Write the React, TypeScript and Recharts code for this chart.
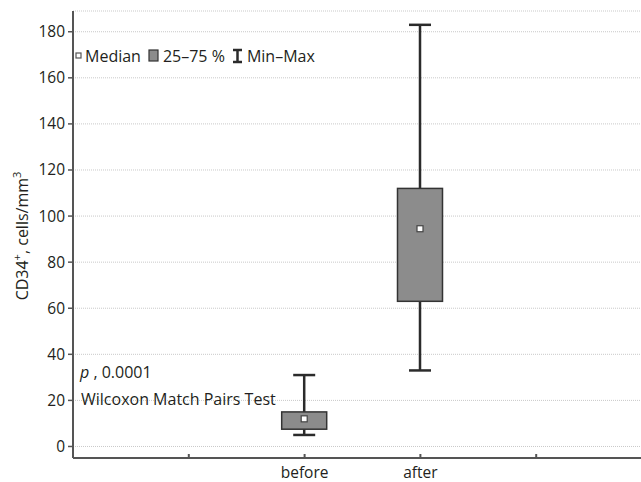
import React from 'react';
import { ComposedChart, Bar, XAxis, YAxis, CartesianGrid, Legend, Customized } from 'recharts';

const categories = ['before', 'after'];
const positions = [2, 3];
const minValues = [5, 33];
const q1Values = [7.5, 63];
const medianValues = [12, 94.5];
const q3Values = [15, 112];
const maxValues = [31, 183];
const yTicks = [0, 20, 40, 60, 80, 100, 120, 140, 160, 180];
const xTicks = [1, 2, 3, 4];

const data = categories.map((name, i) => ({
  name,
  pos: positions[i],
  min: minValues[i],
  q1: q1Values[i],
  median: medianValues[i],
  q3: q3Values[i],
  max: maxValues[i],
}));

const FONT = '"Open Sans", "Noto Sans", sans-serif';
const TEXT = '#231f20';
const LINE = '#2b2b2b';
const BOX = '#8c8c8c';

function BoxShape(props: any) {
  const { x, y, width, height, payload } = props;
  const top = Math.min(y, y + height);
  const h = Math.abs(height);
  const span = payload.max - payload.min;
  const py = (v: number) => top + (h * (payload.max - v)) / span;
  const cx = x + width / 2;
  const cap = 11;
  return (
    <g>
      <line x1={cx} x2={cx} y1={py(payload.max)} y2={py(payload.min)} stroke={LINE} strokeWidth={2.5} />
      <line x1={cx - cap} x2={cx + cap} y1={py(payload.max)} y2={py(payload.max)} stroke={LINE} strokeWidth={2.5} />
      <line x1={cx - cap} x2={cx + cap} y1={py(payload.min)} y2={py(payload.min)} stroke={LINE} strokeWidth={2.5} />
      <rect
        x={x}
        y={py(payload.q3)}
        width={width}
        height={py(payload.q1) - py(payload.q3)}
        fill={BOX}
        stroke="#333"
        strokeWidth={1.5}
      />
      <rect x={cx - 3} y={py(payload.median) - 3} width={6} height={6} fill="#fff" stroke="#444" strokeWidth={1.2} />
    </g>
  );
}

function LegendContent() {
  const item = { display: 'flex', alignItems: 'center', marginRight: 7 } as const;
  return (
    <div style={{ display: 'flex', alignItems: 'center', fontFamily: FONT, fontSize: 16, color: TEXT }}>
      <div style={item}>
        <svg width={8} height={8} style={{ marginRight: 2 }}>
          <rect x={1} y={1} width={5} height={5} fill="#fff" stroke="#555" strokeWidth={1.2} />
        </svg>
        Median
      </div>
      <div style={item}>
        <svg width={12} height={14} style={{ marginRight: 3 }}>
          <rect x={1} y={1} width={9} height={11} fill={BOX} stroke="#333" strokeWidth={1.2} />
        </svg>
        25–75 %
      </div>
      <div style={item}>
        <svg width={12} height={16} style={{ marginRight: 3 }}>
          <line x1={1} x2={10} y1={2} y2={2} stroke={LINE} strokeWidth={2.5} />
          <line x1={5.5} x2={5.5} y1={2} y2={14} stroke={LINE} strokeWidth={2.5} />
          <line x1={1} x2={10} y1={14} y2={14} stroke={LINE} strokeWidth={2.5} />
        </svg>
        Min–Max
      </div>
    </div>
  );
}

function Notes() {
  return (
    <g fontFamily={FONT} fontSize={16} fill={TEXT}>
      <text x={80} y={378}>
        <tspan fontStyle="italic">p</tspan> , 0.0001
      </text>
      <text x={81} y={405}>Wilcoxon Match Pairs Test</text>
      <text
        x={22}
        y={236}
        textAnchor="middle"
        dominantBaseline="central"
        transform="rotate(-90, 22, 236)"
      >
        CD34
        <tspan dy={-6} fontSize={11}>+</tspan>
        <tspan dy={6}>, cells/mm</tspan>
        <tspan dy={-6} fontSize={11}>3</tspan>
      </text>
    </g>
  );
}

export default function App() {
  return (
    <div
      style={{
        position: 'fixed',
        left: 0,
        top: 0,
        width: 641,
        height: 482,
        overflow: 'hidden',
        background: '#fff',
      }}
    >
      <ComposedChart
        width={652}
        height={482}
        data={data}
        margin={{ top: 11, right: 0, bottom: 0, left: 8 }}
      >
        <CartesianGrid vertical={false} stroke="#c9c9c9" strokeDasharray="1 1" />
        <XAxis
          xAxisId="bottom"
          dataKey="pos"
          type="number"
          domain={[0, 5]}
          ticks={xTicks}
          height={24}
          tickSize={-4}
          tickMargin={13}
          tickFormatter={(v: number) => {
            const i = positions.indexOf(v);
            return i >= 0 ? categories[i] : '';
          }}
          axisLine={{ stroke: '#555', strokeWidth: 2 }}
          tickLine={{ stroke: '#555', strokeWidth: 2 }}
          tick={{ fill: TEXT, fontSize: 15.5, fontFamily: FONT }}
        />
        <XAxis
          xAxisId="top"
          orientation="top"
          dataKey="pos"
          type="number"
          domain={[0, 5]}
          ticks={xTicks}
          height={0}
          tickSize={-4}
          tickFormatter={() => ''}
          axisLine={{ stroke: '#777', strokeWidth: 1.5 }}
          tickLine={{ stroke: '#555', strokeWidth: 2 }}
        />
        <YAxis
          type="number"
          domain={[-5, 189]}
          ticks={yTicks}
          width={65}
          tickSize={5}
          tickMargin={3}
          axisLine={{ stroke: '#555', strokeWidth: 2 }}
          tickLine={{ stroke: '#555', strokeWidth: 1.5 }}
          tick={{ fill: TEXT, fontSize: 15.5, fontFamily: FONT }}
        />
        <Legend
          layout="horizontal"
          verticalAlign="middle"
          content={() => <LegendContent />}
          wrapperStyle={{ top: 45, left: 75, width: 'auto' }}
        />
        <Bar
          xAxisId="bottom"
          dataKey={(d: any) => [d.min, d.max]}
          barSize={45}
          shape={(p: any) => <BoxShape {...p} />}
          isAnimationActive={false}
        />
        <Customized component={() => <Notes />} />
      </ComposedChart>
    </div>
  );
}
